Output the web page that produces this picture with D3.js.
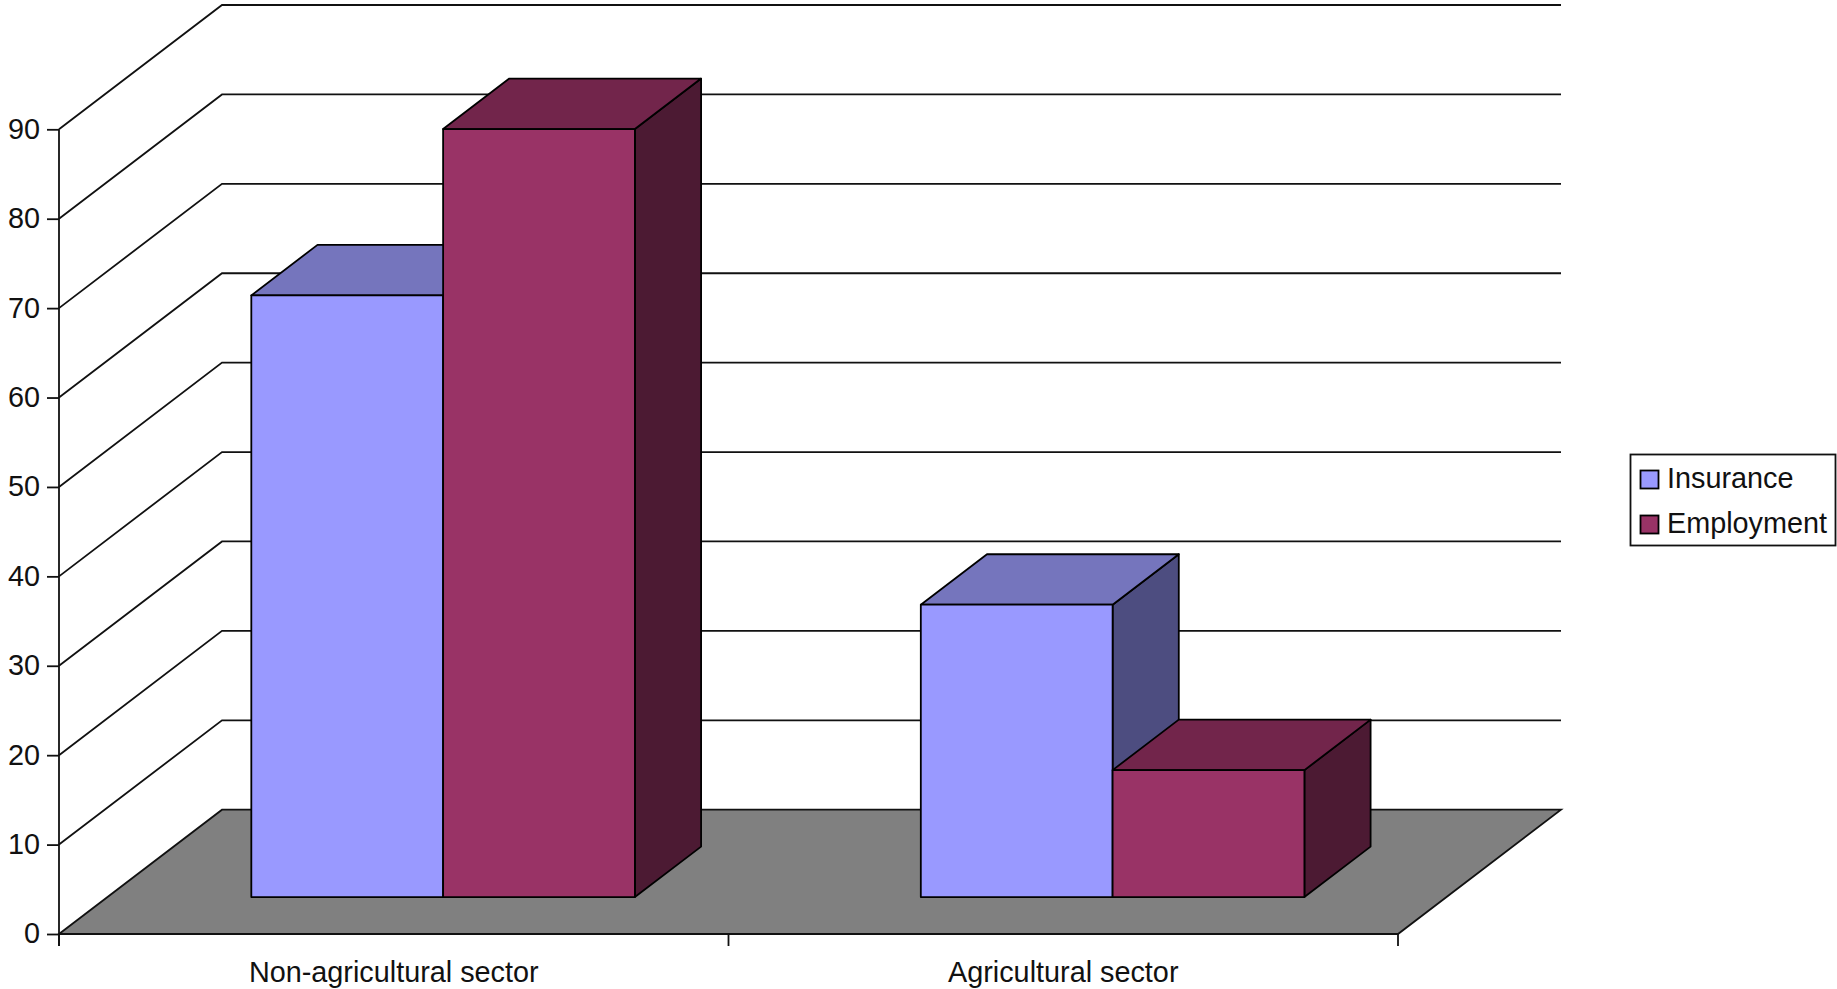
<!DOCTYPE html>
<html><head><meta charset="utf-8">
<script src="https://cdn.jsdelivr.net/npm/d3@7"></script>
<style>html,body{margin:0;padding:0;background:#fff}svg{display:block}text{font-family:"Liberation Sans",Arial,sans-serif;fill:#111}</style>
</head><body><svg id="c" width="1837" height="989"></svg>
<script>
const categories = ["Non-agricultural sector", "Agricultural sector"];
const seriesNames = ["Insurance", "Employment"];
const insurance = [67.3, 32.7];
const employment = [85.9, 14.2];
const seriesColors = ["#9999ff", "#993366"];
const topColors = ["#7575bd", "#72254b"];
const sideColors = ["#4d4d80", "#4c1a33"];
const yTicks = [0, 10, 20, 30, 40, 50, 60, 70, 80, 90];

const values = [insurance, employment];
const svg = d3.select("#c");
const y = d3.scaleLinear().domain([0, 90]).range([934, 129.3]);
const xCat = d3.scaleBand().domain(categories).range([59, 1398]);
const depthX = d3.scaleLinear().domain([0, 1]).range([0, 163]);
const depthY = d3.scaleLinear().domain([0, 1]).range([0, -124.3]);
const P = (x, v, d) => [x + depthX(d), y(v) + depthY(d)];
const line = d3.line();
const ink = "#111";
const fontPx = 28.8;
const lineW = 1.8;

// back wall gridlines and left wall diagonals
const backRight = 1398 + depthX(1);
const grid = svg.append("g").attr("fill", "none").attr("stroke", ink).attr("stroke-width", lineW);
yTicks.filter(t => t > 0).forEach(t => {
  grid.append("path").attr("d", line([P(59, t, 0), P(59, t, 1), [backRight, P(59, t, 1)[1]]]));
});

// floor
svg.append("path").attr("fill", "#808080").attr("stroke", ink).attr("stroke-width", lineW)
  .attr("d", line([P(59, 0, 0), P(59, 0, 1), P(1398, 0, 1), P(1398, 0, 0)]) + "Z");

// bars
const d0 = 0.297, d1 = 0.703;
const inner = d3.scaleBand().domain(seriesNames).range([0, 383.6]);
const groupOffset = 143.9;
const barG = svg.append("g").attr("stroke", "#000").attr("stroke-width", lineW).attr("stroke-linejoin", "round");
categories.forEach((cat, ci) => {
  seriesNames.forEach((s, si) => {
    const x0 = xCat(cat) + groupOffset + inner(s), x1 = x0 + inner.bandwidth(), v = values[si][ci];
    barG.append("path").attr("fill", sideColors[si])
      .attr("d", line([P(x1, 0, d0), P(x1, 0, d1), P(x1, v, d1), P(x1, v, d0)]) + "Z");
    barG.append("path").attr("fill", topColors[si])
      .attr("d", line([P(x0, v, d0), P(x0, v, d1), P(x1, v, d1), P(x1, v, d0)]) + "Z");
    barG.append("path").attr("fill", seriesColors[si])
      .attr("d", line([P(x0, 0, d0), P(x0, v, d0), P(x1, v, d0), P(x1, 0, d0)]) + "Z");
  });
});

// axes
const axisY = svg.append("g").attr("transform", "translate(59,0)")
  .call(d3.axisLeft(y).tickValues(yTicks).tickSize(12).tickPadding(7));
const axisX = svg.append("g").attr("transform", "translate(0,934)")
  .call(d3.axisBottom(xCat).tickSize(0).tickPadding(28));
[axisY, axisX].forEach(a => {
  a.selectAll("path,line").attr("stroke", ink).attr("stroke-width", lineW);
  a.selectAll("text").attr("font-size", fontPx).attr("fill", ink);
});
axisY.select(".domain").attr("d", `M0,${y(90)}V946`);
axisY.selectAll("text").attr("dy", "0.31em");
axisX.select(".domain").attr("d", `M59,0H1398`);
const edges = xCat.domain().map(d => xCat(d)).concat(1398);
axisX.selectAll(".edge").data(edges).enter().append("line").attr("class", "edge")
  .attr("x1", d => d).attr("x2", d => d).attr("y1", 0).attr("y2", 12)
  .attr("stroke", ink).attr("stroke-width", lineW);

// legend
const lg = svg.append("g").attr("transform", "translate(1630,454)");
lg.append("rect").attr("x", 0.5).attr("y", 0.5).attr("width", 205).attr("height", 91)
  .attr("fill", "#fff").attr("stroke", ink).attr("stroke-width", lineW);
const li = d3.scalePoint().domain(seriesNames).range([25.5, 70.5]);
seriesNames.forEach((s, i) => {
  lg.append("rect").attr("x", 10.5).attr("y", li(s) - 9).attr("width", 18).attr("height", 18)
    .attr("fill", seriesColors[i]).attr("stroke", "#000").attr("stroke-width", lineW);
  lg.append("text").attr("x", 37).attr("y", li(s)).attr("dy", "0.31em").attr("font-size", fontPx).text(s);
});
</script></body></html>
